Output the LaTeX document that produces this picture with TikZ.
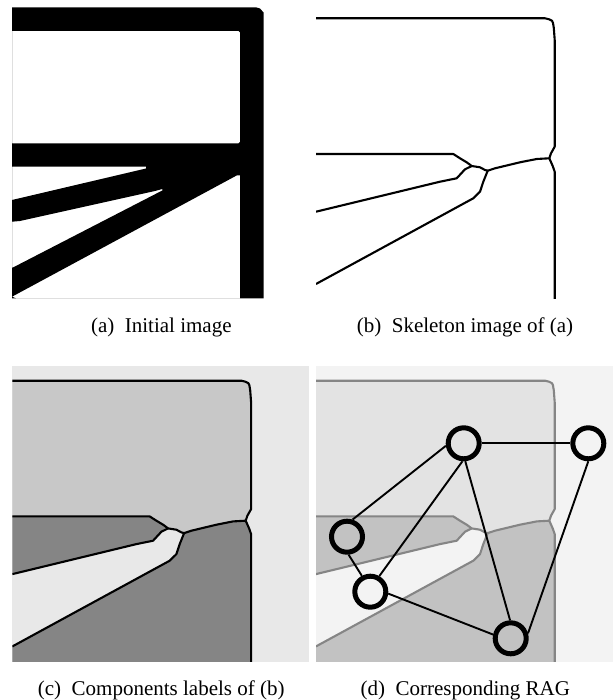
\documentclass[tikz,border=0pt]{standalone}
\usepackage{fontspec}
\setmainfont{Liberation Serif}
\newcommand\pathA{(316,18.3) -- (545,18.3) -- (549,19.3) -- (552,20.8) -- (553,23) -- (553.8,28) -- (554.7,40) -- (554.7,146.7) -- (551,153.3) -- (549.3,158.3)}
\newcommand\pathB{(549.3,158.3) -- (552.7,166) -- (554.7,171.7) -- (554.7,300)}
\newcommand\pathC{(549.3,158.3) -- (536.7,159) -- (520,162.3) -- (495,168.3) -- (487.7,170.7)}
\newcommand\pathD{(316,154) -- (453.3,154) -- (460,158.3) -- (466.7,162.3) -- (471.7,166) -- (480,167.3) -- (485,170) -- (487.7,170.7)}
\newcommand\pathE{(471.7,166) -- (465,169.3) -- (456.7,178.3) -- (440,181.7) -- (316,211.7)}
\newcommand\pathF{(487.7,170.7) -- (483.3,181.7) -- (480,191.7) -- (473.3,198.3) -- (316,284)}
\newcommand\skeleton[1]{%
  \draw[#1,skelline] \pathA;
  \draw[#1,skelline] \pathB;
  \draw[#1,skelline] \pathC;
  \draw[#1,skelline] \pathD;
  \draw[#1,skelline] \pathE;
  \draw[#1,skelline] \pathF;}
\newcommand\regions[2]{%
  \fill[#1] (316,18.3) -- (545,18.3) -- (549,19.3) -- (552,20.8) -- (553,23) -- (553.8,28) -- (554.7,40) -- (554.7,146.7) -- (551,153.3) -- (549.3,158.3) -- (536.7,159) -- (520,162.3) -- (495,168.3) -- (487.7,170.7) -- (485,170) -- (480,167.3) -- (471.7,166) -- (466.7,162.3) -- (460,158.3) -- (453.3,154) -- (316,154) -- cycle;
  \fill[#2] (316,154) -- (453.3,154) -- (460,158.3) -- (466.7,162.3) -- (471.7,166) -- (465,169.3) -- (456.7,178.3) -- (440,181.7) -- (316,211.7) -- cycle;
  \fill[#2] (487.7,170.7) -- (495,168.3) -- (520,162.3) -- (536.7,159) -- (549.3,158.3) -- (552.7,166) -- (554.7,171.7) -- (554.7,300) -- (316,300) -- (316,284) -- (473.3,198.3) -- (480,191.7) -- (483.3,181.7) -- cycle;}
\definecolor{bgc}{HTML}{E8E8E8}
\definecolor{topc}{HTML}{C8C8C8}
\definecolor{lowc}{HTML}{858585}
\definecolor{bgd}{HTML}{F3F3F3}
\definecolor{topd}{HTML}{E3E3E3}
\definecolor{lowd}{HTML}{C2C2C2}
\tikzset{
  skelline/.style={line width=2.1pt,line join=round},
  caption/.style={font=\fontsize{21}{24}\selectfont,inner sep=0pt,anchor=base},
  ragnode/.style={circle,draw=black,line width=5pt,minimum size=31pt,inner sep=0pt},
  ragedge/.style={draw=black,line width=1.9pt}
}
\begin{document}
\begin{tikzpicture}[x=1pt,y=-1pt]
\useasboundingbox (0,0) rectangle (613,700);
% (a)
\fill[black,even odd rule]
  (12,7.5) -- (256.5,7.5) -- (260,8.5) -- (263.5,12.5) -- (263.5,298.3) -- (12,298.3) -- cycle
  (12,31) -- (238.5,31) -- (240,32.5) -- (240,141.8) -- (238.5,143.3) -- (12,143.3) -- cycle
  (12,166.7) -- (146,166.7) -- (146,168.5) -- (12,200) -- cycle
  (12,221.7) -- (20,221) -- (155,191) -- (162.3,189) -- (162.3,190.5) -- (12,268) -- cycle
  (237,175.3) -- (240,175.3) -- (240,298.3) -- (16,298.3) -- (12,296.7) -- cycle
  ;
% (b)
\begin{scope}
  \clip (316,0) rectangle (613,298.3);
  \skeleton{black}
\end{scope}
% (c)
\fill[bgc] (12,366) rectangle (309,661.7);
\begin{scope}[shift={(-303.6,362.4)}]
  \clip (316,0) rectangle (613,299.3);
  \regions{topc}{lowc}
  \skeleton{black}
\end{scope}
% (d)
\fill[bgd] (316,366) rectangle (613,661.7);
\begin{scope}[shift={(0,362.4)}]
  \clip (316,0) rectangle (613,299.3);
  \regions{topd}{lowd}
  \skeleton{lowc}
\end{scope}
\node[ragnode] (n1) at (463.7,443.3) {};
\node[ragnode] (n2) at (588.3,443.3) {};
\node[ragnode] (n3) at (347,536.7) {};
\node[ragnode] (n4) at (370.3,591.7) {};
\node[ragnode] (n5) at (510.7,638.3) {};
\draw[ragedge] (n1) -- (n2);
\draw[ragedge] (n1.188) -- (n3.72);
\draw[ragedge] (n1.266) -- (n4.60);
\draw[ragedge] (n1.275) -- (n5.92);
\draw[ragedge] (n2.270) -- (n5.16);
\draw[ragedge] (n3.275) -- (n4.118);
\draw[ragedge] (n4.354) -- (n5.168);
% captions
\node[caption] (capa) at (161.3,332) {(a)\ \ Initial image};
\node[caption] (capb) at (465,332) {(b)\ \ Skeleton image of (a)};
\node[caption] (capc) at (161.2,695) {(c)\ \ Components labels of (b)};
\node[caption] (capd) at (465.3,695) {(d)\ \ Corresponding RAG};
\end{tikzpicture}
\end{document}
